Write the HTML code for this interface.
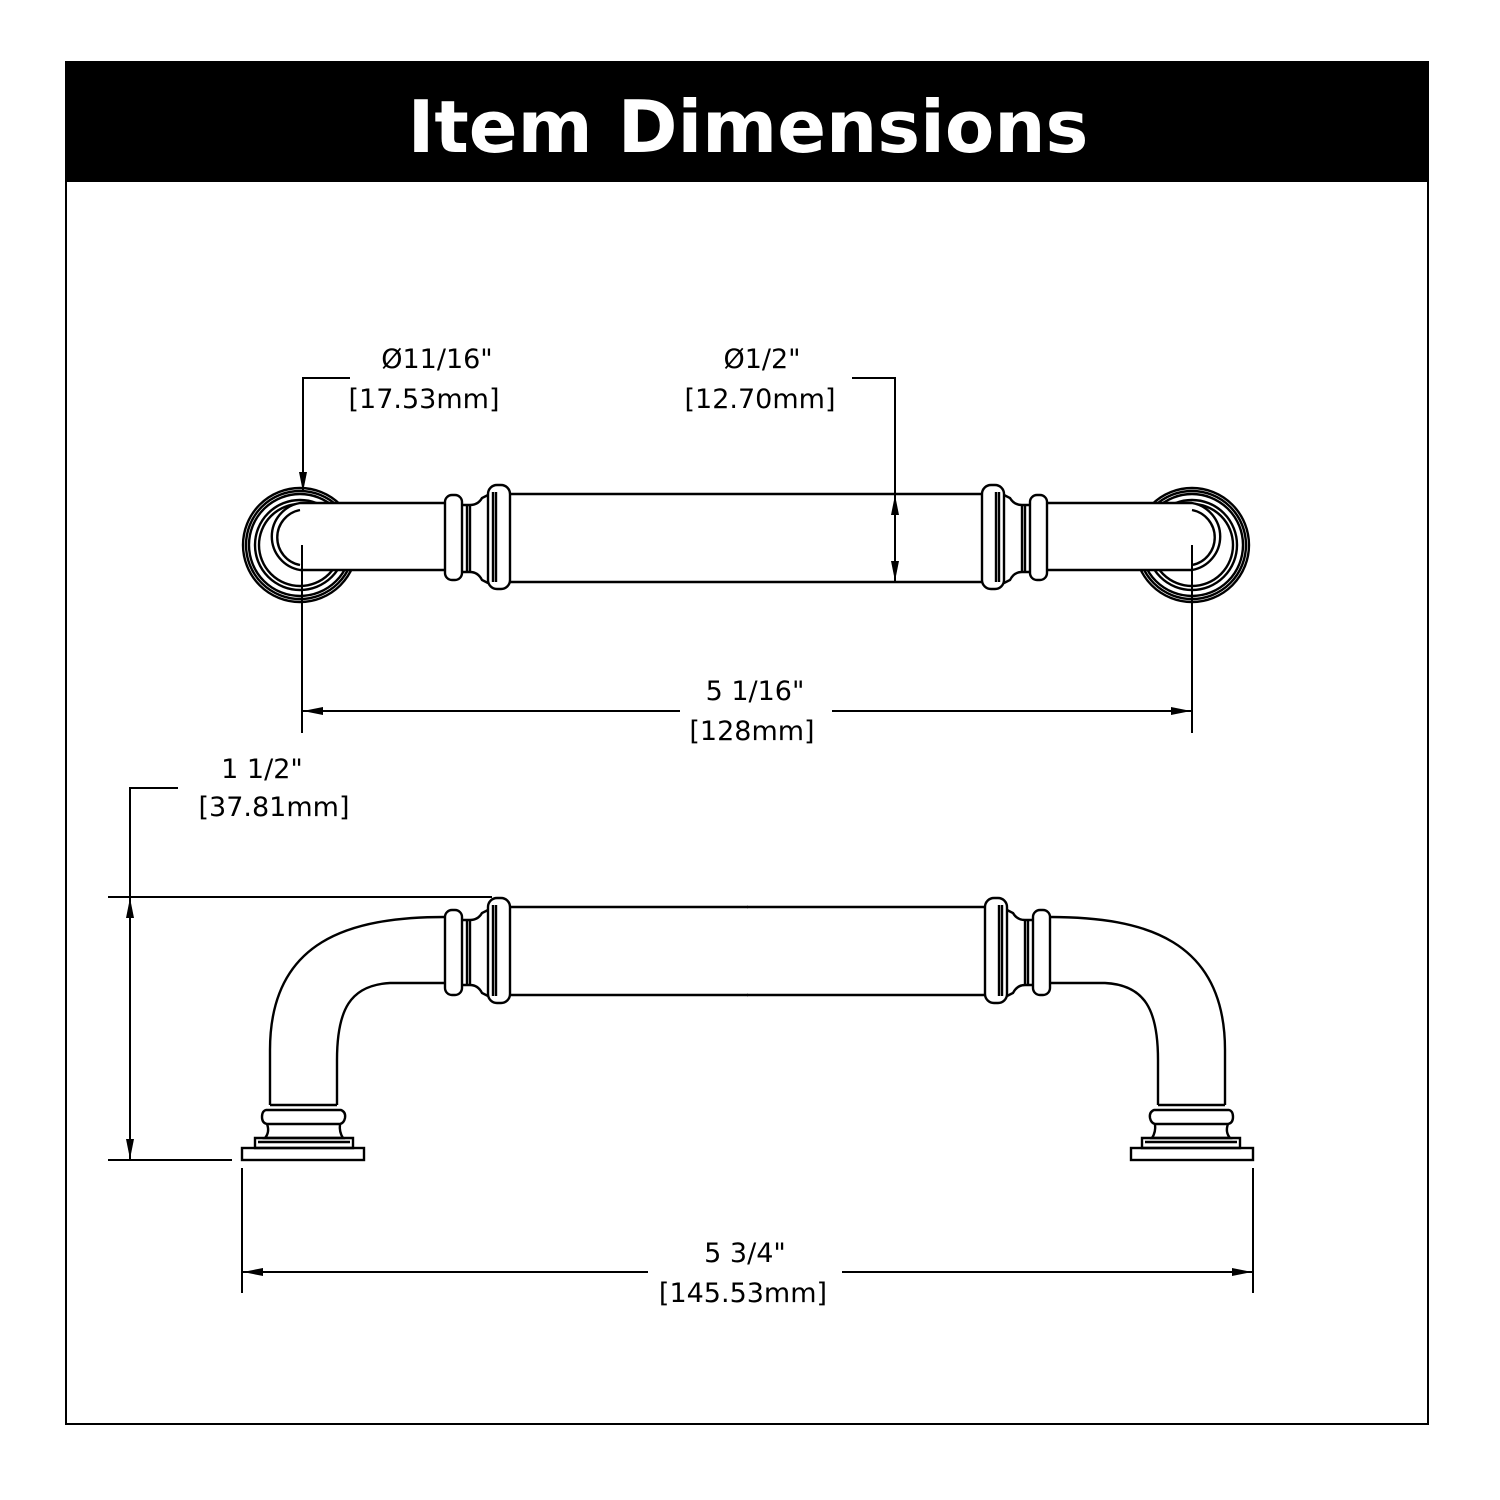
<!DOCTYPE html>
<html><head><meta charset="utf-8"><style>
html,body{margin:0;padding:0;background:#fff}
svg{display:block}
text{font-family:"DejaVu Sans","Liberation Sans",sans-serif;font-size:27px;fill:#000}
</style></head><body>
<svg width="1500" height="1500" viewBox="0 0 1500 1500" xmlns="http://www.w3.org/2000/svg">
<defs>
<marker id="ar" viewBox="0 0 20 8" refX="20" refY="4" markerWidth="20" markerHeight="8" markerUnits="userSpaceOnUse" orient="auto"><path d="M0,0 L20,4 L0,8 z" fill="#000"/></marker>
<g id="topHalf" fill="none" stroke="#000" stroke-width="2.4">
<circle cx="300" cy="545" r="57"/><circle cx="300" cy="545" r="54"/><circle cx="300" cy="545" r="51"/>
<circle cx="300" cy="545" r="45"/><circle cx="300" cy="545" r="41"/>
<path d="M445,503 H300 A34,34 0 0 0 300,570 H445" fill="#fff"/>
<path d="M300,510 A28,28 0 0 0 300,565"/>
<rect x="445" y="495" width="17" height="85" rx="7" fill="#fff"/>
<path d="M462,505 H470 Q478,505 482,498 L488,495 M462,572 H470 Q478,572 482,580 L488,583"/>
<line x1="467" y1="505" x2="467" y2="572"/><line x1="470" y1="505" x2="470" y2="572"/>
<rect x="488" y="485" width="22" height="104" rx="9" fill="#fff"/>
<line x1="493" y1="492" x2="493" y2="582"/><line x1="496" y1="492" x2="496" y2="582"/>
<line x1="510" y1="494" x2="746" y2="494"/><line x1="510" y1="582" x2="746" y2="582"/>
</g>
<g id="botHalf" fill="none" stroke="#000" stroke-width="2.4">
<path d="M445,917 C350,917 270,940 270,1050 V1105 M445,983 H390 C350,985 337,1010 337,1060 V1105"/>
<rect x="445" y="910" width="17" height="85" rx="7" fill="#fff"/>
<path d="M462,920 H470 Q478,920 482,913 L488,910 M462,985 H470 Q478,985 482,993 L488,996"/>
<line x1="467" y1="920" x2="467" y2="985"/><line x1="470" y1="920" x2="470" y2="985"/>
<rect x="488" y="898" width="22" height="105" rx="9" fill="#fff"/>
<line x1="493" y1="905" x2="493" y2="996"/><line x1="496" y1="905" x2="496" y2="996"/>
<line x1="510" y1="907" x2="748" y2="907"/><line x1="510" y1="995" x2="748" y2="995"/>
<path d="M270,1105 H337 M266,1110 H341 Q346,1112 345,1118 Q344,1123 340,1124 H267 Q262,1123 262,1117 Q262,1111 266,1110 Z"/>
<path d="M267,1124 Q270,1132 265,1138 H343 Q339,1132 340,1124"/>
<path d="M255,1138 H353 V1148 H255 Z"/><line x1="258" y1="1142" x2="350" y2="1142"/>
<rect x="242" y="1148" width="122" height="12"/>
</g>
</defs>
<rect x="66" y="62" width="1362" height="1362" fill="#fff" stroke="#000" stroke-width="2"/>
<rect x="66" y="62" width="1362" height="120" fill="#000"/>
<text x="748" y="152" text-anchor="middle" style="font-size:72px;font-weight:bold;fill:#fff">Item Dimensions</text>

<use href="#topHalf"/>
<use href="#topHalf" transform="translate(1492,0) scale(-1,1)"/>
<use href="#botHalf"/>
<use href="#botHalf" transform="translate(1495,0) scale(-1,1)"/>

<g stroke="#000" stroke-width="2" fill="none">
<polyline points="350,378 303,378 303,492" marker-end="url(#ar)"/>
<polyline points="852,378 895,378 895,494"/>
<line x1="895" y1="540" x2="895" y2="495" marker-end="url(#ar)"/>
<line x1="895" y1="540" x2="895" y2="581" marker-end="url(#ar)"/>
<line x1="302" y1="545" x2="302" y2="733"/><line x1="1192" y1="545" x2="1192" y2="733"/>
<line x1="680" y1="711" x2="303" y2="711" marker-end="url(#ar)"/>
<line x1="832" y1="711" x2="1191" y2="711" marker-end="url(#ar)"/>
<polyline points="178,788 130,788 130,1028"/>
<line x1="130" y1="1028" x2="130" y2="898" marker-end="url(#ar)"/>
<line x1="130" y1="1028" x2="130" y2="1159" marker-end="url(#ar)"/>
<line x1="108" y1="897" x2="492" y2="897"/>
<line x1="108" y1="1160" x2="232" y2="1160"/>
<line x1="242" y1="1168" x2="242" y2="1293"/><line x1="1253" y1="1168" x2="1253" y2="1293"/>
<line x1="648" y1="1272" x2="243" y2="1272" marker-end="url(#ar)"/>
<line x1="842" y1="1272" x2="1252" y2="1272" marker-end="url(#ar)"/>
</g>

<text x="437" y="368" text-anchor="middle">Ø11/16"</text>
<text x="424" y="408" text-anchor="middle">[17.53mm]</text>
<text x="762" y="368" text-anchor="middle">Ø1/2"</text>
<text x="760" y="408" text-anchor="middle">[12.70mm]</text>
<text x="755" y="700" text-anchor="middle">5 1/16"</text>
<text x="752" y="740" text-anchor="middle">[128mm]</text>
<text x="262" y="778" text-anchor="middle">1 1/2"</text>
<text x="274" y="816" text-anchor="middle">[37.81mm]</text>
<text x="745" y="1262" text-anchor="middle">5 3/4"</text>
<text x="743" y="1302" text-anchor="middle">[145.53mm]</text>
</svg>
</body></html>
